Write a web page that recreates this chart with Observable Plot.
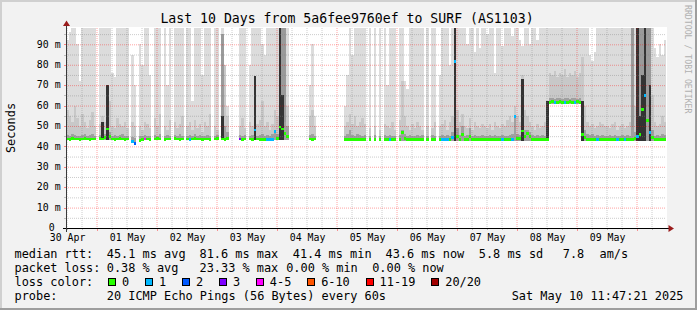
<!DOCTYPE html>
<html><head><meta charset="utf-8">
<script src="https://cdn.jsdelivr.net/npm/d3@7"></script>
<script src="https://cdn.jsdelivr.net/npm/@observablehq/plot@0.6"></script>
<style>
html,body{margin:0;padding:0;background:#f2f2f2;}
svg text{white-space:pre;}
</style></head><body><div id="chart"></div>
<script>
// ---------- texts ----------
const title = "Last 10 Days from 5a6fee9760ef to SURF (AS1103)";
const yAxisLabel = "Seconds";
const watermark = "RRDTOOL / TOBI OETIKER";
const startTime = "2025-04-30T11:47:21Z";
const endTime = "2025-05-10T11:47:21Z";
const xTickLabels = ["30 Apr","01 May","02 May","03 May","04 May","05 May","06 May","07 May","08 May","09 May"];
const yTickValues = [0,10,20,30,40,50,60,70,80,90];
const yTickLabels = ["0 ","10 m","20 m","30 m","40 m","50 m","60 m","70 m","80 m","90 m"];
const legendHeads = ["median rtt:", "packet loss:", "loss color:", "probe:"];
const rttItems = ["45.1 ms avg", "81.6 ms max", "41.4 ms min", "43.6 ms now", "5.8 ms sd", "7.8", "am/s"];
const lossItems = ["0.38 % avg", "23.33 % max", "0.00 % min", "0.00 % now"];
const probeText = "20 ICMP Echo Pings (56 Bytes) every 60s";
const timestamp = "Sat May 10 11:47:21 2025";
const lossLabels = ["0","1","2","3","4-5","6-10","11-19","20/20"];
const lossColors = ["#26ff00","#00b8ff","#0059ff","#7e00ff","#ff00ff","#ff5500","#ff0000","#a10000"];

// ---------- hourly data (hour 0 = 30 Apr 11:47) ----------
const N = null;
// median rtt (ms)
const medRtt = [
 43.6,43.5,43.7,43.6,43.6,43.5,43.6,43.7,43.6,43.5,43.6,43.6,N,43.7,43.6,44.2,48.5,45.0,43.6,43.5,43.6,43.7,43.6,43.5,
 43.6,N,42.2,41.4,N,43.0,43.5,43.6,43.6,43.5,N,43.6,43.7,43.6,N,43.5,43.6,43.6,N,43.7,43.6,43.5,43.6,N,
 43.6,43.5,43.6,43.7,43.6,43.6,43.5,43.6,43.6,43.5,N,43.6,43.7,N,43.6,43.5,43.8,N,N,N,N,43.6,43.5,43.6,
 N,43.6,43.5,48.0,43.6,43.5,43.4,43.5,43.3,43.3,43.4,47.2,44.0,49.5,48.5,46.5,45.0,N,N,N,N,N,N,N,
 N,43.6,43.5,43.6,N,N,N,N,N,N,N,N,N,N,N,43.3,43.2,43.3,43.2,43.3,43.2,43.3,43.2,43.3,
 N,43.2,N,43.2,N,43.3,N,43.2,43.3,43.2,43.3,43.2,N,43.3,47.0,44.0,43.3,43.2,43.2,43.3,43.2,43.3,43.2,N,
 43.2,N,43.3,43.2,N,43.2,43.3,43.2,43.3,43.4,44.5,81.6,45.0,43.5,46.0,43.4,43.2,45.0,43.3,43.2,43.3,43.2,43.3,43.2,
 43.2,43.3,43.2,43.3,43.2,43.3,43.2,43.3,43.2,43.3,43.4,54.5,44.0,44.0,47.5,45.0,46.5,45.0,43.3,43.2,43.3,43.2,43.3,43.2,
 43.3,61.6,61.8,61.7,61.6,61.8,61.7,61.6,61.7,61.8,61.6,61.7,61.8,61.7,46.0,44.5,43.3,43.2,43.3,43.2,43.3,43.2,43.3,43.2,
 43.3,43.2,43.3,43.2,43.3,43.2,43.3,43.2,43.3,43.2,43.5,44.0,45.0,46.0,58.0,64.9,52.6,47.0,44.5,43.3,43.2,43.3,43.2,43.3
];
// lowest ping (ms)
const minRtt = [
 42.9,42.9,42.9,42.9,42.9,42.9,42.9,42.9,42.9,42.9,42.9,42.9,N,42.9,42.9,42.9,42.9,42.9,42.9,42.9,42.9,42.9,42.9,42.9,
 42.9,N,41.6,40.9,N,42.8,42.9,42.9,42.9,42.9,N,42.9,42.9,42.9,N,42.9,42.9,42.9,N,42.9,42.9,42.9,42.9,N,
 42.9,42.9,42.9,42.9,42.9,42.9,42.9,42.9,42.9,42.9,N,42.9,42.9,N,42.9,42.9,42.9,N,N,N,N,42.9,42.9,42.9,
 N,42.9,42.9,42.9,42.9,42.9,42.9,42.9,42.9,42.9,42.9,42.9,42.9,42.9,42.9,42.9,42.9,N,N,N,N,N,N,N,
 N,42.9,42.9,42.9,N,N,N,N,N,N,N,N,N,N,N,42.7,42.7,42.7,42.7,42.7,42.7,42.7,42.7,42.7,
 N,42.7,N,42.7,N,42.7,N,42.7,42.7,42.7,42.7,42.7,N,42.7,42.7,42.7,42.7,42.7,42.7,42.7,42.7,42.7,42.7,N,
 42.7,N,42.7,42.7,N,42.7,42.7,42.7,42.7,42.7,42.7,42.7,42.7,42.7,42.7,42.7,42.7,42.7,42.7,42.7,42.7,42.7,42.7,42.7,
 42.7,42.7,42.7,42.7,42.7,42.7,42.7,42.7,42.7,42.7,42.7,42.7,42.7,42.7,42.7,42.7,42.7,42.7,42.7,42.7,42.7,42.7,42.7,42.7,
 42.7,60.9,60.9,60.9,60.9,60.9,60.9,60.9,60.9,60.9,60.9,60.9,60.9,60.9,42.7,42.7,42.7,42.7,42.7,42.7,42.7,42.7,42.7,42.7,
 42.7,42.7,42.7,42.7,42.7,42.7,42.7,42.7,42.7,42.7,42.7,42.7,42.7,42.7,42.7,42.7,42.7,42.7,42.7,42.7,42.7,42.7,42.7,42.7
];
// highest ping (ms), light smoke
const maxRtt = [
 92,96,98,98,90,72,98,98,98,98,98,98,N,98,98,98,98,98,76,74,98,98,98,98,
 98,N,85,70,N,90,80,98,98,75,N,98,98,98,N,98,70,98,N,98,98,98,98,N,
 98,98,62,98,98,98,75,98,98,98,N,98,98,N,98,80,60,N,N,N,N,98,98,98,
 N,80,98,98,98,98,90,85,98,98,98,98,98,98,98,98,98,N,N,N,N,N,N,N,
 N,70,90,55,N,N,N,N,N,N,N,N,N,N,N,60,75,98,85,98,98,98,98,98,
 N,98,N,98,N,98,N,98,70,98,98,98,N,98,98,72,68,98,98,98,98,98,98,N,
 98,N,98,98,N,75,98,98,98,80,98,98,98,98,98,98,90,98,98,86,98,88,98,98,
 95,98,98,76,98,98,89,98,98,98,94,98,98,92,89,98,98,90,98,98,92,98,98,98,
 98,98,98,98,98,98,98,98,98,98,98,98,98,98,98,98,98,85,82,86,98,98,98,98,
 98,98,98,98,98,98,98,98,98,98,98,98,98,98,98,98,98,98,98,88,84,90,85,92
];
// upper quartile of pings (ms), medium smoke
const upperRtt = [
 58,55,52,60,54,50,56,52,49,53,57,50,N,51,55,52,60,62,50,49,54,51,50,52,
 49,N,52,50,N,50,48,52,51,49,N,54,50,56,N,50,48,53,N,52,49,51,55,N,
 50,52,48,53,49,51,47,52,50,56,N,50,48,N,95,80,55,N,N,N,N,50,54,49,
 N,52,50,55,51,53,62,50,52,48,51,58,55,98,98,98,60,N,N,N,N,N,N,N,
 N,55,58,50,N,N,N,N,N,N,N,N,N,N,N,50,52,56,51,55,50,52,54,51,
 N,49,N,50,N,48,N,51,50,49,52,48,N,53,72,55,50,48,51,49,52,50,48,N,
 50,N,49,52,N,50,51,53,48,52,55,98,58,52,56,50,49,54,48,52,50,49,51,50,
 49,51,48,52,50,49,51,50,53,55,52,60,55,52,75,58,55,52,50,48,51,49,50,52,
 62,76,75,77,74,76,75,78,74,76,75,77,74,76,84,60,52,50,51,49,50,52,51,50,
 50,49,51,52,48,50,51,49,50,52,98,60,98,98,98,98,98,98,65,52,50,51,55,52
];
// dense core of pings (ms), dark smoke
const coreRtt = [
 45.5,45,46,45.5,45,45,45.5,46,45,45.5,46,45,N,45.5,52,46,70,47,45,45.5,45,45.5,46,45,
 45,N,44.5,44,N,45,45,45.5,45,45,N,45.5,45,46,N,45,45.5,45,N,45.5,45,46,45,N,
 45,45.5,45,46,45,45.5,45,45,45.5,45,N,45,45.5,N,55,50,47,N,N,N,N,45.5,45,45.5,
 N,45,45.5,74.6,45,45.5,46,45,45.5,45,46,48,46,98,65,52,50,N,N,N,N,N,N,N,
 N,45.5,46,45,N,N,N,N,N,N,N,N,N,N,N,45,46,48,45.5,45,46,45.5,45,45.5,
 N,45,N,45.5,N,45,N,45.5,45,45.5,45,45,N,45.5,48,46,45,45.5,45,45,45.5,45,45.5,N,
 45,N,45.5,45,N,45,45.5,45,45.5,45,47,98,49,45.5,50,45,45.5,49,45,45.5,45,45,45.5,45,
 45,45.5,45,45.5,45,45,45.5,45,45,45.5,46,55.5,46,45.5,73,48,48,47,45.5,45,45.5,45,45.5,45,
 62,63.5,63.5,63,63.5,63.5,63,63.5,63.5,63,63.5,63.5,63,63.5,62,48,46,45.5,46,45,45.5,45,45.5,45,
 45,45.5,45,45.5,45,45,45.5,45,45.5,45,50,47,98,55,75,98,60,70,48,45,45.5,45,46,45.5
];
// loss colour class (index into lossLabels)
const lossClass = [
 0,0,0,0,0,0,0,0,0,0,0,0,0,0,0,0,0,0,0,0,0,0,0,0,
 0,0,1,2,0,0,0,4,0,0,0,0,0,0,0,0,0,0,0,0,0,0,0,0,
 0,1,0,0,0,0,0,0,0,0,0,0,0,0,0,0,0,0,0,0,0,3,0,0,
 0,0,0,1,0,0,0,0,1,1,1,1,0,0,0,0,0,0,0,0,0,0,0,0,
 0,0,0,0,0,0,0,0,0,0,0,0,0,0,0,0,0,0,0,0,0,0,0,0,
 0,0,0,0,0,0,0,0,0,1,0,0,0,0,0,0,0,0,0,0,0,0,0,0,
 0,0,0,0,0,0,1,1,1,0,1,1,0,0,0,0,0,0,0,0,0,0,0,0,
 0,0,0,0,0,0,1,0,0,0,1,1,0,0,0,0,0,0,0,0,0,0,0,0,
 0,0,0,1,0,0,0,1,0,0,0,1,0,0,0,0,0,0,0,0,1,0,0,0,
 0,0,0,0,1,0,0,1,0,0,0,0,1,0,0,1,0,1,0,0,0,0,0,0
];

// ---------- build ----------
const t0 = new Date(startTime), t1 = new Date(endTime);
const HOUR = 3600e3;
const rows = medRtt.map((m, i) => ({
  x1: new Date(+t0 + i * HOUR), x2: new Date(+t0 + (i + 1) * HOUR),
  med: m, min: minRtt[i], max: maxRtt[i], upper: upperRtt[i], core: coreRtt[i], loss: lossClass[i]
})).filter(d => d.med != null);

const majorX = d3.utcDay.range(t0, t1);
const minorX = d3.utcHour.every(6).range(t0, t1).filter(d => d.getUTCHours() !== 0);
const majorY = d3.range(10, 98, 10);
const minorY = d3.range(5, 98, 10);

const crisp = {shapeRendering: "crispEdges"};
const chart = Plot.plot({
  width: 697, height: 310,
  marginLeft: 66, marginRight: 31, marginTop: 28, marginBottom: 82,
  x: {type: "utc", domain: [t0, t1], axis: null},
  y: {domain: [0, 98], axis: null},
  color: {type: "identity"},
  style: {background: "#f2f2f2", fontFamily: "DejaVu Sans Mono", overflow: "visible"},
  marks: [
    Plot.rect(rows, {x1: "x1", x2: "x2", y1: "min", y2: "max", fill: "#dcdcdc", ...crisp}),
    Plot.rect(rows, {x1: "x1", x2: "x2", y1: "min", y2: "upper",
      fill: d => (d.upper > 90 ? "#9a9a9a" : "#c8c8c8"), ...crisp}),
    Plot.rect(rows, {x1: "x1", x2: "x2", y1: "min", y2: "core",
      fill: d => (d.core - d.med > 8 ? "#333333" : "#a0a0a0"), ...crisp}),
    Plot.ruleY(minorY, {stroke: "#808080", strokeOpacity: 0.4, strokeDasharray: "1,1"}),
    Plot.ruleX(minorX, {stroke: "#808080", strokeOpacity: 0.4, strokeDasharray: "1,1"}),
    Plot.ruleY(majorY, {stroke: "#ff0000", strokeOpacity: 0.37, strokeDasharray: "1,1"}),
    Plot.ruleX(majorX, {stroke: "#ff0000", strokeOpacity: 0.37, strokeDasharray: "1,1"}),
    Plot.rect(rows, {x1: "x1", x2: "x2", y1: d => d.med - 0.7, y2: d => d.med + 0.7,
      fill: d => lossColors[d.loss], ...crisp})
  ]
});

const svg = d3.select(chart);
const xs = chart.scale("x"), ys = chart.scale("y");
const X = d3.scaleUtc(xs.domain, xs.range);
const Y = d3.scaleLinear(ys.domain, ys.range);
const x0 = X(t0), xEnd = X(t1), yBase = Y(0), yTop = Y(98);

// white canvas behind the graph
svg.insert("rect", ":first-child")
  .attr("x", x0).attr("y", yTop - 1).attr("width", xEnd - x0 + 1).attr("height", yBase - yTop + 1)
  .attr("fill", "#ffffff");

const g = svg.append("g").attr("text-anchor", "start");
// 3D border
g.append("rect").attr("x", 0).attr("y", 0).attr("width", 697).attr("height", 2).attr("fill", "#d0d0d0");
g.append("rect").attr("x", 0).attr("y", 0).attr("width", 2).attr("height", 310).attr("fill", "#d0d0d0");
g.append("rect").attr("x", 695).attr("y", 0).attr("width", 2).attr("height", 310).attr("fill", "#9e9e9e");
g.append("rect").attr("x", 0).attr("y", 308).attr("width", 697).attr("height", 2).attr("fill", "#9e9e9e");

// ticks outside the axes
majorX.forEach(d => g.append("line").attr("x1", Math.round(X(d)) + 0.5).attr("x2", Math.round(X(d)) + 0.5)
  .attr("y1", yBase).attr("y2", yBase + 3).attr("stroke", "#ff0000").attr("stroke-opacity", 0.4));
minorX.forEach(d => g.append("line").attr("x1", Math.round(X(d)) + 0.5).attr("x2", Math.round(X(d)) + 0.5)
  .attr("y1", yBase).attr("y2", yBase + 2).attr("stroke", "#808080").attr("stroke-opacity", 0.5));
d3.range(5, 98, 5).forEach(v => g.append("line").attr("x1", x0 - 2).attr("x2", x0)
  .attr("y1", Math.round(Y(v)) + 0.5).attr("y2", Math.round(Y(v)) + 0.5)
  .attr("stroke", v % 10 === 0 ? "#ff0000" : "#808080").attr("stroke-opacity", 0.45));

// axes
g.append("line").attr("x1", x0 - 3).attr("x2", xEnd + 3).attr("y1", yBase + 0.5).attr("y2", yBase + 0.5)
  .attr("stroke", "#000");
g.append("line").attr("x1", x0 + 0.5).attr("x2", x0 + 0.5).attr("y1", yBase + 4).attr("y2", yTop - 2)
  .attr("stroke", "#3a3a3a");
g.append("path").attr("fill", "#9a1c1c")
  .attr("d", `M${x0 + 0.5},${yTop - 7.5} L${x0 - 3},${yTop - 2} L${x0 + 4},${yTop - 2} Z`);
g.append("path").attr("fill", "#9a1c1c")
  .attr("d", `M${xEnd + 8},${yBase + 0.5} L${xEnd + 2.5},${yBase - 3} L${xEnd + 2.5},${yBase + 4} Z`);

const mono = "DejaVu Sans Mono";
const txt = (s, x, y, size, anchor) => g.append("text").text(s).attr("x", x).attr("y", y)
  .attr("text-anchor", anchor || "start").attr("font-family", mono).attr("font-size", size)
  .attr("fill", "#000").style("white-space", "pre");

// x tick labels at noon
xTickLabels.forEach((s, k) => {
  const noon = new Date(Date.UTC(2025, 3, 30, 12) + k * 24 * HOUR);
  txt(s, X(noon) + 1, yBase + 12.7, 9.9, "middle");
});
// y tick labels
yTickValues.forEach((v, k) => txt(yTickLabels[k], 60.6, Y(v) + 3.2, 9.9, "end"));

// title, axis label, watermark
txt(title, 347, 23.3, 13.2, "middle");
g.append("text").text(yAxisLabel).attr("transform", "translate(14.8,128) rotate(-90)")
  .attr("text-anchor", "middle").attr("font-family", mono).attr("font-size", 11.9).attr("fill", "#000");
g.append("text").text(watermark).attr("transform", "translate(684.6,5) rotate(90)")
  .attr("text-anchor", "start").attr("font-family", mono).attr("font-size", 8.2).attr("fill", "#b0b0b0");

// legend
const fs = 11.9, cw = fs * 0.602, lx = 14.5, vx = 106.8;
const lineY = i => 258.3 + 14 * i;
legendHeads.forEach((s, i) => txt(s, lx, lineY(i), fs));
const rttX = [vx, 199.5, 292.8, 385.5, 478.8, 562.8, 599.5];
rttItems.forEach((s, i) => txt(s, rttX[i], lineY(0), fs));
const lossX = [vx, 199.5, 286.2, 372.2];
lossItems.forEach((s, i) => txt(s, lossX[i], lineY(1), fs));
let bx = 108;
lossLabels.forEach((s, i) => {
  g.append("rect").attr("x", Math.round(bx) + 0.5).attr("y", 278.5).attr("width", 7).attr("height", 7)
    .attr("fill", lossColors[i]).attr("stroke", "#000").attr("stroke-width", 1);
  txt(s, bx + 14, lineY(2), fs);
  bx = bx + 14 + s.length * cw + 15.8;
});
txt(probeText, vx, lineY(3), fs);
txt(timestamp, 683.5, lineY(3), fs, "end");

document.getElementById("chart").appendChild(chart);
</script>
</body></html>
